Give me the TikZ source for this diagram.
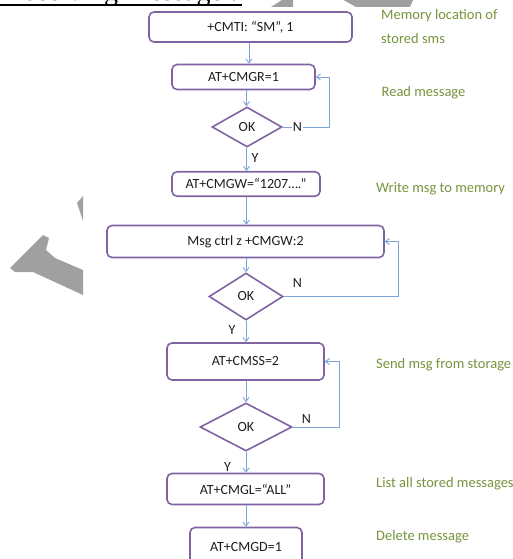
\documentclass[tikz,border=0pt]{standalone}
\usepackage{fontspec}
\setmainfont{Carlito}
\newfontfamily\headfont{Liberation Serif}
\usetikzlibrary{shapes.geometric,arrows.meta}
\definecolor{boxpurple}{RGB}{128,100,162}
\definecolor{linkblue}{RGB}{125,165,218}
\definecolor{notegreen}{RGB}{119,147,60}
\definecolor{txtgrey}{RGB}{30,30,30}
\definecolor{wmgrey}{RGB}{160,160,160}
\tikzset{
  stepbox/.style={draw=boxpurple, line width=1.6pt, rounded corners=5pt, fill=white,
    inner sep=0pt, text=txtgrey, font=\fontsize{14}{16}\selectfont},
  okdia/.style={draw=boxpurple, line width=1.6pt, diamond, inner sep=0pt, fill=white,
    text=txtgrey, font=\fontsize{14}{16}\selectfont},
  arr/.style={draw=linkblue, line width=0.9pt, -{Straight Barb[length=4pt,width=6pt]}},
  yn/.style={text=txtgrey, font=\fontsize{14}{16}\selectfont, inner sep=1pt},
  note/.style={anchor=west, text=notegreen, inner sep=0pt, font=\fontsize{14.5}{17}\selectfont}
}
\begin{document}
\begin{tikzpicture}[x=1pt,y=-1pt]
\useasboundingbox (0,0) rectangle (513,559);
% watermark fragments
\fill[wmgrey] (271,7) -- (285,-2) -- (293,-2) -- (293,7) -- cycle;
\fill[wmgrey] (340,-2) -- (414,-2) -- (410,7) -- (356,7) -- cycle;
\fill[wmgrey] (77,203) -- (83,196) -- (83,221) -- cycle;
\fill[wmgrey] (10,268) -- (43,235) -- (49,238) -- (46,250) -- (55,258) -- (83,270) -- (83,295) -- (33,272) -- (15,272) -- cycle;
% header (cut by page top, as in the reference)
\node[anchor=base east, inner sep=0pt, font=\headfont\fontsize{28}{30}\selectfont] (head) at (238,0.8) {Receiving Message :};
\draw[line width=1.6pt] (-20,5) -- (242,5);
% boxes
\node[stepbox, minimum width=203pt, minimum height=30pt] (b1) at (250.5,27) {+CMTI: “SM”, 1};
\node[stepbox, minimum width=143pt, minimum height=25pt] (b2) at (243.5,77) {AT+CMGR=1};
\node[okdia, minimum width=70pt, minimum height=40pt] (d1) at (247,127) {OK};
\node[stepbox, minimum width=148pt, minimum height=24.5pt] (b3) at (246,184) {AT+CMGW=“1207….”};
\node[stepbox, minimum width=277pt, minimum height=32pt] (b4) at (245.5,241.5) {Msg ctrl z +CMGW:2};
\node[okdia, minimum width=74pt, minimum height=47pt] (d2) at (246,296.5) {OK};
\node[stepbox, minimum width=157pt, minimum height=37pt] (b5) at (245.5,361.5) {AT+CMSS=2};
\node[okdia, minimum width=92pt, minimum height=48pt] (d3) at (246,427) {OK};
\node[stepbox, minimum width=157pt, minimum height=31pt] (b6) at (245.5,489) {AT+CMGL=“ALL”};
\node[stepbox, minimum width=112pt, minimum height=38pt] (b7) at (246,546.5) {AT+CMGD=1};
% vertical connectors
\coordinate (c1) at (249,0);
\coordinate (c2) at (246.5,0);
\draw[arr] (b1.south -| c1) -- (b2.north -| c1);
\draw[arr] (b2.south -| c2) -- (d1.north -| c2);
\draw[arr] (d1.south -| c2) -- (b3.north -| c2);
\draw[arr] (b3.south -| c2) -- (b4.north -| c2);
\draw[arr] (b4.south -| d2) -- (d2.north);
\draw[arr] (d2.south) -- (b5.north -| d2);
\draw[arr] (b5.south -| d3) -- (d3.north);
\draw[arr] (d3.south) -- (b6.north -| d3);
\draw[arr] (b6.south -| d3) -- (b7.north -| d3);
% loops
\draw[arr] (d1.east) -- ++(47,0) |- (b2.east);
\draw[arr] (d2.east) -- ++(115,0) |- (b4.east);
\draw[arr] (d3.east) -- ++(47,0) |- (b5.east);
% Y / N labels
\node[yn, fill=white] (n1) at (297.5,127.5) {N};
\node[yn] (n2) at (297.5,283.5) {N};
\node[yn] (n3) at (306.5,419.5) {N};
\node[yn] (y1) at (255,158.5) {Y};
\node[yn] (y2) at (232,330) {Y};
\node[yn] (y3) at (227.5,467.5) {Y};
% notes
\node[note] (t1) at (381,16) {Memory location of};
\node[note] (t2) at (381,38.5) {stored sms};
\node[note] (t3) at (381.5,93) {Read message};
\node[note] (t4) at (376,188.5) {Write msg to memory};
\node[note] (t5) at (376,365) {Send msg from storage};
\node[note] (t6) at (376,484) {List all stored messages};
\node[note] (t7) at (376,537) {Delete message};
\end{tikzpicture}
\end{document}
